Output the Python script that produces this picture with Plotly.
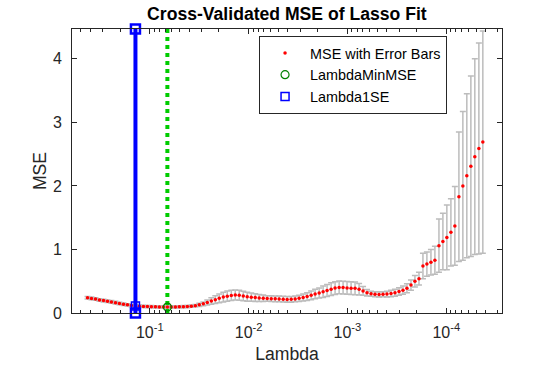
import plotly.graph_objects as go

# log10(Lambda) of the 100 fitted lambdas, largest first
log_lambda = [
    -0.370, -0.410, -0.451, -0.491, -0.532, -0.572, -0.612, -0.653, -0.693, -0.734,
    -0.774, -0.814, -0.855, -0.895, -0.936, -0.976, -1.016, -1.057, -1.097, -1.138,
    -1.178, -1.218, -1.259, -1.299, -1.340, -1.380, -1.420, -1.461, -1.501, -1.542,
    -1.582, -1.623, -1.663, -1.703, -1.744, -1.784, -1.825, -1.865, -1.905, -1.946,
    -1.986, -2.027, -2.067, -2.107, -2.148, -2.188, -2.229, -2.269, -2.309, -2.350,
    -2.390, -2.431, -2.471, -2.511, -2.552, -2.592, -2.633, -2.673, -2.714, -2.754,
    -2.794, -2.835, -2.875, -2.916, -2.956, -2.996, -3.037, -3.077, -3.118, -3.158,
    -3.198, -3.239, -3.279, -3.320, -3.360, -3.400, -3.441, -3.481, -3.522, -3.562,
    -3.602, -3.643, -3.683, -3.724, -3.764, -3.804, -3.845, -3.885, -3.926, -3.966,
    -4.006, -4.047, -4.087, -4.128, -4.168, -4.208, -4.249, -4.289, -4.330, -4.370,
]

mse = [
    0.240, 0.230, 0.220, 0.205, 0.195, 0.185, 0.175, 0.163, 0.150, 0.138,
    0.128, 0.118, 0.111, 0.107, 0.104, 0.101, 0.099, 0.097, 0.096, 0.095,
    0.094, 0.095, 0.096, 0.097, 0.099, 0.102, 0.107, 0.115, 0.128, 0.145,
    0.165, 0.189, 0.210, 0.231, 0.250, 0.265, 0.277, 0.283, 0.279, 0.266,
    0.255, 0.248, 0.242, 0.237, 0.232, 0.228, 0.226, 0.224, 0.221, 0.217,
    0.214, 0.216, 0.222, 0.231, 0.243, 0.258, 0.278, 0.298, 0.315, 0.335,
    0.355, 0.375, 0.393, 0.403, 0.401, 0.395, 0.390, 0.388, 0.375, 0.348,
    0.318, 0.302, 0.295, 0.293, 0.294, 0.298, 0.307, 0.320, 0.338, 0.360,
    0.390, 0.440, 0.500, 0.540, 0.740, 0.770, 0.800, 0.830, 1.060, 1.125,
    1.190, 1.270, 1.370, 1.830, 2.000, 2.160, 2.310, 2.460, 2.590, 2.690,
]

se = [
    0.020, 0.020, 0.020, 0.020, 0.020, 0.020, 0.020, 0.020, 0.020, 0.020,
    0.018, 0.018, 0.018, 0.018, 0.018, 0.018, 0.018, 0.018, 0.018, 0.018,
    0.018, 0.018, 0.018, 0.018, 0.018, 0.018, 0.018, 0.018, 0.025, 0.030,
    0.040, 0.050, 0.060, 0.070, 0.075, 0.080, 0.080, 0.080, 0.080, 0.075,
    0.070, 0.065, 0.060, 0.055, 0.050, 0.045, 0.045, 0.045, 0.045, 0.045,
    0.045, 0.045, 0.045, 0.050, 0.055, 0.060, 0.070, 0.075, 0.080, 0.090,
    0.095, 0.100, 0.100, 0.100, 0.100, 0.100, 0.100, 0.100, 0.090, 0.070,
    0.050, 0.040, 0.040, 0.040, 0.040, 0.045, 0.050, 0.055, 0.060, 0.065,
    0.070, 0.080, 0.090, 0.100, 0.200, 0.190, 0.200, 0.220, 0.420, 0.445,
    0.510, 0.530, 0.620, 1.020, 1.170, 1.290, 1.420, 1.540, 1.660, 1.750,
]

idx_min = 20   # LambdaMinMSE
idx_1se = 12   # Lambda1SE
y_top = 4.47

lam = [10 ** e for e in log_lambda]
lam_min = lam[idx_min]
lam_1se = lam[idx_1se]

font = "Liberation Sans, Arial, sans-serif"
axis_col = "#262626"

fig = go.Figure()

fig.add_trace(go.Scatter(
    x=lam, y=mse, mode="markers", name="MSE with Error Bars",
    marker=dict(color="red", size=3.5, symbol="circle"),
    error_y=dict(type="data", array=se, color="#bcbcbc", thickness=1.5, width=3),
))

# vertical reference lines
fig.add_trace(go.Scatter(
    x=[lam_min, lam_min], y=[0, y_top], mode="lines", showlegend=False,
    line=dict(color="#00cc00", width=4, dash="dot"),
))
fig.add_trace(go.Scatter(
    x=[lam_1se, lam_1se], y=[0, y_top], mode="lines+markers", showlegend=False,
    line=dict(color="blue", width=4),
    marker=dict(symbol="square-open", size=9, color="blue", line=dict(width=2.5)),
    cliponaxis=False,
))

fig.add_trace(go.Scatter(
    x=[lam_min], y=[mse[idx_min]], mode="markers", name="LambdaMinMSE",
    marker=dict(symbol="circle-open", size=8, color="#008000", line=dict(width=1.2)),
))
fig.add_trace(go.Scatter(
    x=[lam_1se], y=[mse[idx_1se]], mode="markers", name="Lambda1SE",
    marker=dict(symbol="square-open", size=8, color="blue", line=dict(width=1.5)),
    cliponaxis=False,
))

minor_vals = [k * 10 ** d for d in range(0, -6, -1) for k in range(2, 10)]

fig.update_layout(
    width=556, height=371,
    margin=dict(l=72, r=54, t=29, b=58, autoexpand=False),
    paper_bgcolor="white", plot_bgcolor="white",
    font=dict(family=font, size=16, color=axis_col),
    title=dict(text="<b>Cross-Validated MSE of Lasso Fit</b>", x=0.516, xanchor="center",
               y=0.962, yanchor="middle", font=dict(size=17.6, color="black")),
    showlegend=True,
    legend=dict(x=0.435, y=0.975, xanchor="left", yanchor="top",
                bgcolor="white", bordercolor=axis_col, borderwidth=1,
                font=dict(size=14.4, color="black"), traceorder="normal",
                itemwidth=40),
    xaxis=dict(
        type="log", range=[-0.213, -4.564], automargin=False,
        tickmode="array", tickvals=[1e-1, 1e-2, 1e-3, 1e-4],
        ticktext=["10<sup>-1</sup>", "10<sup>-2</sup>", "10<sup>-3</sup>", "10<sup>-4</sup>"],
        ticks="inside", ticklen=5, tickcolor=axis_col, ticklabelstandoff=5,
        minor=dict(tickmode="array", tickvals=minor_vals, ticks="inside", ticklen=3,
                   tickcolor=axis_col),
        showline=True, linecolor=axis_col, linewidth=1, mirror="ticks",
        showgrid=False, zeroline=False,
        title=dict(text="Lambda", font=dict(size=17.6), standoff=7),
    ),
    yaxis=dict(
        range=[0, y_top], tickvals=[0, 1, 2, 3, 4], automargin=False,
        ticks="inside", ticklen=5, tickcolor=axis_col, ticklabelstandoff=6,
        showline=True, linecolor=axis_col, linewidth=1, mirror="ticks",
        showgrid=False, zeroline=False,
        title=dict(text="MSE", font=dict(size=17.6), standoff=1),
    ),
)

# drop the browser's default page margin so the figure sits at the window origin
fig.write_html("out.html", config={"displayModeBar": False},
               post_script="document.body.style.margin='0';")
